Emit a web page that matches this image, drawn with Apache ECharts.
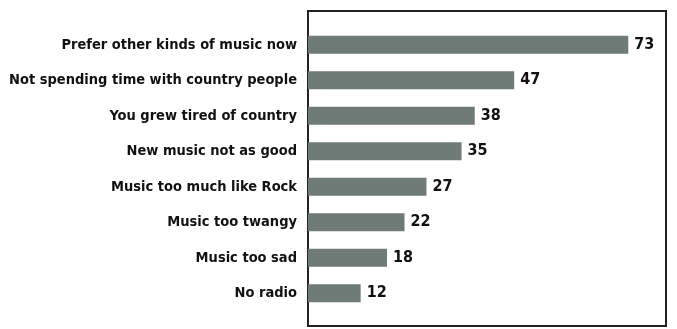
<!DOCTYPE html>
<html>
<head>
<meta charset="utf-8">
<script src="https://cdn.jsdelivr.net/npm/echarts@6/dist/echarts.min.js"></script>
<style>
	html, body { margin: 0; padding: 0; background: #fff; }
	#chart { width: 677px; height: 329px; }
</style>
</head>
<body>
<div id="chart"></div>
<script>
// 数据
let categories = [
	"Prefer other kinds of music now",
	"Not spending time with country people",
	"You grew tired of country",
	"New music not as good",
	"Music too much like Rock",
	"Music too twangy",
	"Music too sad",
	"No radio"
];
let values = [73, 47, 38, 35, 27, 22, 18, 12];

let font = "'DejaVu Sans Condensed', 'Liberation Sans Narrow', sans-serif";

let chart = echarts.init(document.querySelector('#chart'));
let option = {
	backgroundColor: '#ffffff',
	animation: false,
	grid: { left: 308, right: 18, top: 27, bottom: 18, outerBoundsMode: 'none', containLabel: false },
	xAxis: {
		type: 'value',
		min: 0,
		max: 80,
		show: false
	},
	yAxis: {
		type: 'category',
		data: categories,
		inverse: true,
		axisLine: { show: false },
		axisTick: { show: false },
		axisLabel: {
			margin: 11,
			color: '#111',
			fontFamily: font,
			fontWeight: 'bold',
			fontSize: 14.5
		}
	},
	series: [{
		type: 'bar',
		data: values,
		barWidth: 18,
		itemStyle: { color: '#6f7b76' },
		label: {
			show: true,
			position: 'right',
			distance: 6,
			color: '#111',
			fontFamily: font,
			fontWeight: 'bold',
			fontSize: 16
		}
	}],
	// 外框
	graphic: [{
		type: 'rect',
		shape: { x: 308, y: 11, width: 358, height: 315 },
		style: { fill: 'none', stroke: '#222', lineWidth: 2 },
		silent: true
	}]
};
chart.setOption(option);
</script>
</body>
</html>
